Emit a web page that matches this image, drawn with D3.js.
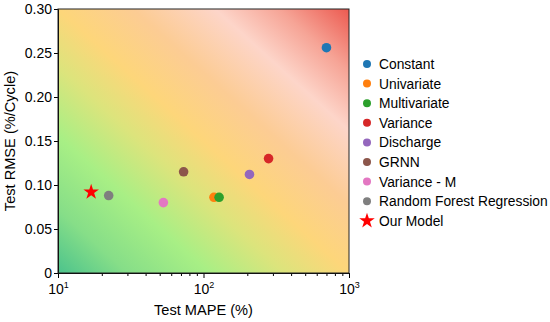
<!DOCTYPE html>
<html>
<head>
<meta charset="utf-8">
<script src="https://cdn.jsdelivr.net/npm/d3@7"></script>
<style>
  body { margin: 0; background: #fff; }
  text { font-family: Arial, 'Liberation Sans', sans-serif; fill: #000; }
</style>
</head>
<body>
<div id="chart"></div>
<script>
// model names, MAPE (%) and RMSE (%/cycle)
const models = ['Constant', 'Univariate', 'Multivariate', 'Variance', 'Discharge', 'GRNN', 'Variance - M', 'Random Forest Regression', 'Our Model'];
const mape = [700, 118, 128, 280, 207, 73, 53, 22.3, 16.9];
const rmse = [0.256, 0.086, 0.086, 0.130, 0.112, 0.115, 0.080, 0.088, 0.092];
const colors = ['#1f77b4', '#ff7f0e', '#2ca02c', '#d62728', '#9467bd', '#8c564b', '#e377c2', '#7f7f7f', '#ff0000'];
const yTicks = [0, 0.05, 0.10, 0.15, 0.20, 0.25, 0.30];
const xTicks = [10, 100, 1000];

const fontSize = 14;

const margin = { top: 9, right: 201, bottom: 49, left: 58 };
const width = 550 - margin.left - margin.right;
const height = 322 - margin.top - margin.bottom;

const svg = d3.select('#chart')
  .append('svg')
  .attr('width', 550)
  .attr('height', 322);

const x = d3.scaleLog().domain([10, 1000]).range([0, width]);
const y = d3.scaleLinear().domain([0, 0.30]).range([height, 0]);

// diagonal background gradient, green bottom-left to red top-right
const grad = svg.append('defs').append('linearGradient')
  .attr('id', 'bg')
  .attr('x1', 0).attr('y1', 1)
  .attr('x2', 1).attr('y2', 0);
const stops = [
  [0, '#4cc38c'], [0.12, '#86de88'], [0.26, '#a8ef85'], [0.39, '#dce47c'],
  [0.50, '#fdd67a'], [0.63, '#fccc94'], [0.77, '#fdd5c9'], [0.88, '#f6a496'], [1, '#ec5a50']
];
stops.forEach(s => {
  grad.append('stop').attr('offset', s[0]).attr('stop-color', s[1]);
});

const g = svg.append('g')
  .attr('transform', 'translate(' + margin.left + ',' + margin.top + ')');

g.append('rect')
  .attr('width', width)
  .attr('height', height)
  .attr('fill', 'url(#bg)');

// Draw the x-axis (log, with minor ticks)
const minor = [];
for (let d = 10; d < 1000; d *= 10) {
  for (let k = 2; k < 10; k++) minor.push(d * k);
}
g.append('g')
  .attr('transform', 'translate(0,' + height + ')')
  .call(d3.axisBottom(x).tickValues(minor).tickSize(3).tickFormat(''))
  .call(a => a.select('.domain').remove());

const xAxis = g.append('g')
  .attr('transform', 'translate(0,' + height + ')')
  .call(d3.axisBottom(x).tickValues(xTicks).tickSize(5).tickFormat(''));
xAxis.selectAll('.tick').each(function (d) {
  const t = d3.select(this).append('text')
    .attr('y', 21)
    .attr('text-anchor', 'middle')
    .style('font-size', fontSize + 'px');
  t.append('tspan').text('10');
  t.append('tspan').attr('dy', -6).style('font-size', '9px').text(Math.round(Math.log10(d)));
});

// Draw the y-axis
g.append('g')
  .call(d3.axisLeft(y).tickValues(yTicks).tickSize(4)
    .tickFormat(d => d === 0 ? '0' : d3.format('.2f')(d)))
  .call(a => a.selectAll('text').style('font-size', fontSize + 'px').attr('dx', 1));

svg.selectAll('.domain, .tick line').attr('stroke', '#000');

// frame on top and right
g.append('rect')
  .attr('width', width)
  .attr('height', height)
  .attr('fill', 'none')
  .attr('stroke', '#222')
  .attr('stroke-width', 1);

// axis titles
svg.append('text')
  .attr('x', margin.left + width / 2)
  .attr('y', 315)
  .attr('text-anchor', 'middle')
  .style('font-size', '14.6px')
  .text('Test MAPE (%)');

svg.append('text')
  .attr('transform', 'translate(15,' + (margin.top + height / 2) + ') rotate(-90)')
  .attr('text-anchor', 'middle')
  .style('font-size', '14.6px')
  .text('Test RMSE (%/Cycle)');

// Draw the points
const star = d3.symbol().type(d3.symbolStar).size(75);
models.forEach((m, i) => {
  if (m === 'Our Model') {
    g.append('path')
      .attr('d', star)
      .attr('transform', 'translate(' + x(mape[i]) + ',' + y(rmse[i]) + ')')
      .attr('fill', colors[i]);
  } else {
    g.append('circle')
      .attr('cx', x(mape[i]))
      .attr('cy', y(rmse[i]))
      .attr('r', 4.8)
      .attr('fill', colors[i]);
  }
});

// legend
const legend = svg.append('g').attr('transform', 'translate(367,64)');
models.forEach((m, i) => {
  const row = legend.append('g').attr('transform', 'translate(0,' + (i * 19.6) + ')');
  if (m === 'Our Model') {
    row.append('path').attr('d', star).attr('fill', colors[i]);
  } else {
    row.append('circle').attr('r', 4).attr('fill', colors[i]);
  }
  row.append('text')
    .attr('x', 12)
    .attr('y', 5)
    .style('font-size', '13.8px')
    .text(m);
});
</script>
</body>
</html>
